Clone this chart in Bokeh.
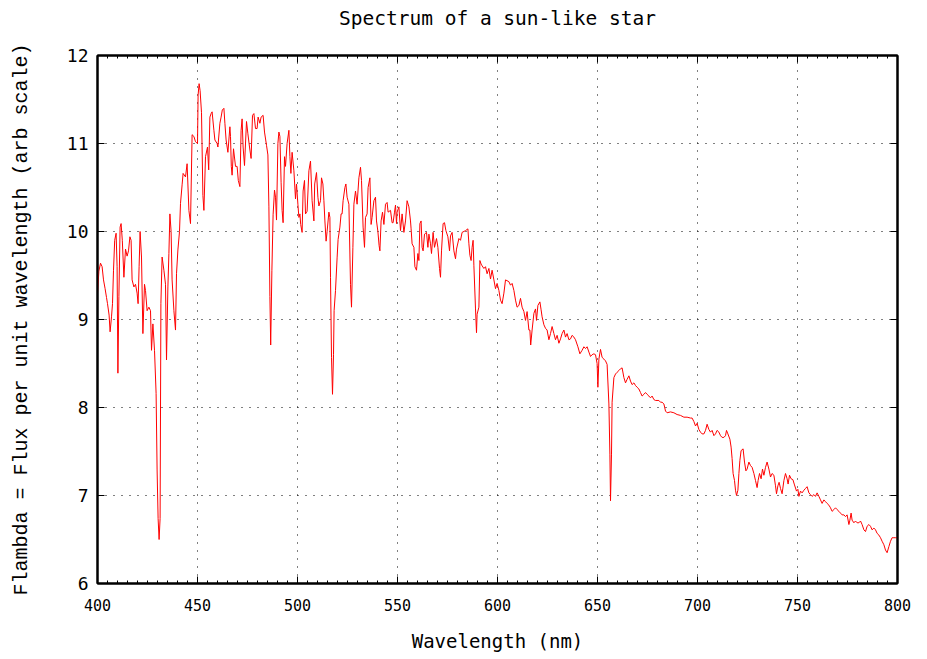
from bokeh.plotting import figure
from bokeh.models import LinearAxis, SingleIntervalTicker, Range1d, CustomJSTickFormatter
from bokeh.embed import file_html
from bokeh.resources import INLINE

# Spectrum readings (wavelength in nm, flux in arbitrary units)
wavelength = [
    400.0, 400.7, 401.5, 402.3, 403.0, 403.8, 404.5, 405.0, 405.8, 406.3, 407.0, 407.5, 408.0, 408.6, 409.3, 409.8,
    410.2, 410.7, 411.3, 411.8, 412.4, 413.2, 414.0, 414.8, 415.5, 416.2, 416.8, 417.3, 418.2, 419.0, 419.8, 420.3,
    420.8, 421.3, 422.0, 422.7, 423.5, 424.0, 424.8, 425.7, 426.5, 427.0, 427.7, 428.5, 429.3, 429.8, 430.3, 430.8,
    431.3, 431.7, 432.3, 433.2, 434.0, 434.5, 435.2, 435.7, 436.2, 436.8, 437.3, 438.2, 439.0, 439.5, 440.2, 441.0,
    441.5, 442.3, 442.8, 444.0, 444.8, 445.7, 446.5, 447.3, 448.2, 449.0, 450.0, 450.3, 450.8, 451.3, 452.0, 452.7,
    453.2, 454.0, 455.0, 455.6, 456.2, 456.8, 457.3, 458.2, 458.7, 459.8, 460.2, 461.2, 461.8, 462.4, 463.2, 463.7,
    464.3, 465.2, 466.2, 466.5, 466.9, 467.3, 468.0, 469.0, 469.8, 470.4, 471.2, 471.8, 472.3, 472.8, 473.5, 474.5,
    475.2, 476.0, 476.8, 477.5, 478.2, 479.0, 479.8, 480.3, 481.2, 481.8, 482.8, 483.5, 484.5, 485.2, 485.7, 486.2,
    486.6, 487.2, 487.8, 488.5, 489.0, 489.5, 490.2, 490.7, 491.2, 491.8, 492.3, 492.8, 493.5, 494.0, 494.8, 495.7,
    496.2, 496.7, 497.3, 498.2, 499.0, 499.5, 500.2, 500.7, 501.2, 501.6, 502.3, 502.8, 503.5, 504.0, 504.8, 505.7,
    506.5, 507.3, 508.2, 508.6, 509.5, 510.2, 510.7, 511.5, 512.0, 512.7, 513.2, 513.7, 514.3, 514.8, 515.7, 516.2,
    516.5, 517.0, 517.5, 518.0, 518.3, 519.0, 519.8, 520.3, 521.2, 521.8, 522.3, 522.8, 523.7, 524.2, 524.8, 525.7,
    526.5, 527.0, 527.7, 528.2, 529.0, 529.8, 530.7, 531.5, 532.0, 532.8, 533.5, 534.0, 534.8, 535.3, 536.2, 536.8,
    537.3, 538.2, 539.0, 539.5, 540.2, 540.8, 541.2, 541.8, 542.5, 543.2, 544.0, 544.8, 545.3, 546.5, 547.3, 547.8,
    548.5, 549.0, 549.5, 549.8, 550.7, 551.5, 552.3, 553.2, 554.0, 554.8, 555.7, 556.5, 556.8, 557.3, 558.2, 558.7,
    559.5, 560.2, 560.7, 561.2, 561.8, 562.3, 562.8, 563.5, 564.5, 565.2, 565.7, 566.5, 567.0, 567.8, 568.5, 569.5,
    570.2, 571.0, 571.5, 572.0, 572.8, 573.5, 574.2, 575.2, 576.0, 576.5, 577.3, 578.2, 579.0, 579.5, 580.7, 581.5,
    582.3, 584.0, 585.2, 585.7, 586.2, 586.8, 587.3, 587.8, 588.2, 589.0, 589.5, 589.8, 590.7, 591.2, 591.8, 592.3,
    593.2, 594.0, 594.8, 595.7, 596.5, 597.3, 598.2, 599.0, 599.8, 600.7, 601.5, 602.3, 603.2, 604.0, 605.7, 606.5,
    607.3, 608.2, 609.0, 609.8, 610.7, 611.5, 612.3, 613.2, 614.0, 614.8, 615.7, 616.2, 616.6, 617.3, 618.2, 619.0,
    619.5, 620.2, 621.2, 621.8, 622.3, 623.2, 624.0, 624.8, 625.7, 626.5, 627.3, 628.2, 629.0, 629.8, 630.7, 631.5,
    632.3, 633.2, 634.0, 634.8, 635.7, 636.5, 637.3, 638.2, 639.0, 640.2, 641.2, 642.3, 643.2, 644.0, 644.8, 645.7,
    646.5, 647.3, 648.2, 649.0, 649.8, 650.2, 650.7, 651.5, 652.3, 653.2, 654.0, 654.8, 655.7, 656.2, 656.5, 657.0,
    657.3, 658.2, 659.0, 659.8, 660.7, 661.5, 662.3, 663.2, 664.0, 664.8, 665.7, 666.5, 667.3, 668.2, 669.0, 669.8,
    670.7, 671.5, 672.3, 673.2, 674.0, 674.8, 675.7, 676.5, 677.3, 678.2, 679.0, 680.7, 681.5, 682.3, 683.2, 684.0,
    684.8, 686.5, 688.2, 689.8, 691.5, 693.2, 694.8, 696.5, 697.3, 698.2, 699.0, 699.8, 700.7, 701.5, 702.3, 703.2,
    704.0, 704.8, 705.7, 706.5, 707.3, 708.2, 709.0, 709.8, 710.7, 711.5, 712.3, 713.2, 714.0, 714.5, 715.2, 716.2,
    716.8, 717.3, 717.8, 718.5, 719.0, 719.5, 720.2, 720.7, 721.2, 721.8, 722.8, 723.5, 724.2, 724.8, 725.7, 726.5,
    727.3, 728.2, 729.0, 729.8, 730.3, 731.0, 731.8, 732.5, 733.2, 734.0, 734.8, 735.7, 736.5, 737.3, 738.2, 739.0,
    739.5, 740.2, 740.8, 741.5, 742.3, 743.2, 744.0, 744.8, 745.3, 746.0, 746.8, 747.7, 748.5, 749.5, 750.2, 750.7,
    751.5, 752.3, 753.2, 754.0, 754.8, 755.7, 756.5, 757.3, 758.2, 759.0, 759.8, 760.7, 761.5, 762.3, 763.2, 764.0,
    764.8, 765.7, 766.5, 767.3, 768.2, 769.0, 769.8, 770.7, 771.5, 772.3, 773.2, 774.0, 774.8, 775.7, 776.2, 776.8,
    777.3, 778.2, 779.0, 779.8, 780.7, 781.5, 782.3, 783.2, 784.0, 784.8, 785.7, 786.5, 787.3, 788.2, 789.0, 789.8,
    790.7, 791.5, 792.3, 793.2, 794.0, 794.8, 795.7, 796.5, 797.3, 798.2, 799.0, 800.0,
]
flux = [
    9.30, 9.55, 9.64, 9.60, 9.45, 9.35, 9.25, 9.18, 9.05, 8.86, 9.03, 9.18, 9.56, 9.90, 9.98, 9.60,
    8.39, 9.26, 10.05, 10.09, 9.90, 9.48, 9.80, 9.72, 9.78, 9.94, 9.90, 9.45, 9.37, 9.40, 9.30, 9.18,
    9.60, 10.00, 9.71, 8.84, 9.40, 9.33, 9.10, 9.14, 9.10, 8.65, 8.95, 8.65, 8.16, 7.29, 6.74, 6.50,
    6.74, 9.18, 9.71, 9.56, 9.40, 8.54, 9.37, 9.75, 10.20, 10.00, 9.45, 9.10, 8.88, 9.52, 9.79, 10.00,
    10.32, 10.53, 10.66, 10.62, 10.77, 10.24, 10.09, 11.10, 11.08, 11.02, 11.00, 11.55, 11.68, 11.60, 11.35, 10.41,
    10.24, 10.85, 10.96, 10.70, 11.30, 11.34, 11.36, 11.15, 11.04, 11.00, 10.96, 11.23, 11.30, 11.38, 11.40, 11.23,
    11.04, 10.90, 11.19, 11.08, 10.74, 10.64, 10.94, 10.74, 10.74, 10.58, 10.51, 11.15, 11.28, 10.96, 10.75, 11.25,
    11.11, 10.96, 10.83, 11.32, 11.34, 11.17, 11.17, 11.30, 11.23, 11.30, 11.32, 11.13, 10.98, 10.87, 10.28, 9.26,
    8.71, 9.56, 10.19, 10.47, 10.39, 10.13, 11.00, 11.13, 11.08, 10.56, 10.24, 10.10, 10.85, 10.74, 11.00, 11.15,
    10.85, 10.66, 10.90, 10.69, 10.37, 10.54, 10.31, 10.16, 10.20, 10.08, 9.99, 10.46, 10.58, 10.20, 10.23, 10.69,
    10.80, 10.35, 10.12, 10.54, 10.67, 10.39, 10.29, 10.35, 10.61, 10.54, 10.35, 10.12, 9.89, 10.00, 10.22, 10.16,
    9.48, 8.57, 8.15, 8.60, 9.10, 9.33, 9.70, 9.91, 10.05, 10.20, 10.20, 10.35, 10.50, 10.54, 10.39, 10.31,
    9.40, 9.14, 9.82, 10.31, 10.46, 10.31, 10.61, 10.73, 10.58, 10.05, 9.82, 10.16, 10.20, 10.50, 10.61, 10.08,
    10.16, 10.35, 10.39, 10.12, 10.00, 9.84, 9.78, 10.12, 10.22, 10.08, 10.31, 10.33, 10.22, 10.24, 10.10, 10.10,
    10.22, 10.30, 10.09, 10.22, 10.28, 10.01, 10.20, 9.99, 10.12, 10.35, 10.28, 10.12, 10.03, 9.86, 9.82, 9.60,
    9.56, 9.75, 9.67, 10.09, 10.12, 9.82, 9.78, 9.97, 9.99, 9.82, 9.97, 9.86, 9.75, 9.99, 9.82, 9.92,
    9.82, 9.58, 9.48, 9.78, 10.09, 10.10, 10.01, 9.94, 9.78, 9.95, 9.99, 9.78, 9.69, 9.80, 9.92, 9.90,
    9.99, 10.01, 10.03, 9.86, 9.73, 9.67, 9.82, 9.90, 9.61, 9.12, 8.85, 9.06, 9.14, 9.67, 9.63, 9.61,
    9.58, 9.60, 9.52, 9.58, 9.46, 9.56, 9.45, 9.35, 9.41, 9.33, 9.22, 9.18, 9.30, 9.45, 9.43, 9.39,
    9.41, 9.33, 9.22, 9.14, 9.16, 9.24, 9.14, 9.09, 8.99, 9.09, 8.88, 8.88, 8.71, 8.88, 9.07, 9.12,
    8.99, 9.16, 9.20, 9.11, 9.03, 8.94, 8.90, 8.88, 8.77, 8.84, 8.92, 8.84, 8.77, 8.82, 8.73, 8.78,
    8.84, 8.88, 8.80, 8.84, 8.77, 8.78, 8.82, 8.80, 8.77, 8.69, 8.61, 8.65, 8.69, 8.67, 8.69, 8.63,
    8.58, 8.60, 8.61, 8.60, 8.50, 8.23, 8.55, 8.66, 8.57, 8.55, 8.53, 8.49, 8.04, 7.47, 6.94, 7.47,
    8.06, 8.34, 8.38, 8.40, 8.42, 8.44, 8.45, 8.34, 8.28, 8.32, 8.36, 8.30, 8.26, 8.28, 8.25, 8.23,
    8.21, 8.17, 8.13, 8.15, 8.17, 8.15, 8.13, 8.11, 8.13, 8.09, 8.08, 8.08, 8.06, 8.06, 8.04, 7.96,
    7.94, 7.95, 7.94, 7.92, 7.91, 7.89, 7.89, 7.88, 7.88, 7.84, 7.79, 7.82, 7.75, 7.72, 7.70, 7.70,
    7.74, 7.81, 7.75, 7.72, 7.74, 7.68, 7.70, 7.74, 7.72, 7.68, 7.66, 7.66, 7.68, 7.74, 7.70, 7.64,
    7.55, 7.42, 7.25, 7.17, 7.06, 7.00, 7.06, 7.25, 7.40, 7.51, 7.53, 7.38, 7.28, 7.30, 7.38, 7.34,
    7.32, 7.25, 7.17, 7.09, 7.17, 7.25, 7.19, 7.30, 7.23, 7.32, 7.38, 7.30, 7.21, 7.25, 7.23, 7.11,
    7.02, 7.11, 7.15, 7.08, 7.02, 7.17, 7.25, 7.19, 7.13, 7.23, 7.19, 7.18, 7.12, 7.05, 7.07, 6.99,
    7.05, 7.03, 7.06, 7.08, 7.10, 7.03, 7.01, 6.99, 7.01, 6.99, 7.03, 6.99, 6.95, 6.91, 6.95, 6.93,
    6.91, 6.89, 6.86, 6.82, 6.84, 6.86, 6.84, 6.82, 6.80, 6.78, 6.78, 6.76, 6.78, 6.67, 6.72, 6.80,
    6.72, 6.69, 6.71, 6.69, 6.69, 6.71, 6.67, 6.61, 6.59, 6.65, 6.67, 6.65, 6.61, 6.63, 6.61, 6.57,
    6.55, 6.52, 6.48, 6.44, 6.38, 6.35, 6.42, 6.48, 6.52, 6.52, 6.52, 6.52,
]

title_text = "Spectrum of a sun-like star"
x_label = "Wavelength (nm)"
y_label = "Flambda = Flux per unit wavelength (arb scale)"

MONO = "DejaVu Sans Mono"

p = figure(
    width=925, height=657,
    x_range=Range1d(400, 800), y_range=Range1d(6, 12),
    output_backend="svg", toolbar_location=None, title_location=None,
    min_border_left=97, min_border_right=28, min_border_top=55, min_border_bottom=74,
    x_axis_label=x_label, y_axis_label=y_label,
)
p.background_fill_color = "white"
p.border_fill_color = "white"
p.outline_line_color = "black"
p.outline_line_width = 2

xt = SingleIntervalTicker(interval=50, num_minor_ticks=10)
yt = SingleIntervalTicker(interval=1, num_minor_ticks=0)

def style_axis(ax, ticker, show_labels, minor):
    ax.ticker = ticker
    ax.axis_line_color = "black"
    ax.axis_line_width = 2
    ax.major_tick_in = 7
    ax.major_tick_out = 0
    ax.major_tick_line_width = 1
    ax.major_tick_line_color = "black"
    if minor:
        ax.minor_tick_in = 3
        ax.minor_tick_out = 0
        ax.minor_tick_line_color = "black"
    else:
        ax.minor_tick_line_color = None
    if not show_labels:
        ax.formatter = CustomJSTickFormatter(code="return ''")
        ax.major_label_standoff = 0

# bottom / left axes
bx = p.xaxis[0]
ly = p.yaxis[0]
style_axis(bx, xt, True, True)
style_axis(ly, yt, True, False)
bx.major_label_text_font = MONO
bx.major_label_text_font_size = "15px"
bx.major_label_text_color = "black"
bx.major_label_standoff = 15
bx.axis_label_text_font = MONO
bx.axis_label_text_font_size = "19px"
bx.axis_label_text_font_style = "normal"
bx.axis_label_text_color = "black"
bx.axis_label_standoff = 16

ly.major_label_text_font = MONO
ly.major_label_text_font_size = "18px"
ly.major_label_text_color = "black"
ly.major_label_standoff = 9
ly.axis_label_text_font = "Liberation Mono"
ly.axis_label_text_font_size = "20px"
ly.axis_label_text_font_style = "normal"
ly.axis_label_text_color = "black"
ly.axis_label_standoff = 31

# mirrored axes on top / right; the top one carries the chart title
tx = LinearAxis(axis_label=title_text)
style_axis(tx, xt, False, True)
tx.axis_label_text_font = MONO
tx.axis_label_text_font_size = "19.5px"
tx.axis_label_text_font_style = "normal"
tx.axis_label_text_color = "black"
tx.axis_label_standoff = 26
p.add_layout(tx, "above")
ry = LinearAxis()
style_axis(ry, yt, False, False)
p.add_layout(ry, "right")

# dotted grid
for g in (p.xgrid[0], p.ygrid[0]):
    g.grid_line_color = "black"
    g.grid_line_dash = "1 7"
    g.grid_line_width = 1
p.xgrid[0].ticker = xt
p.ygrid[0].ticker = yt

p.line(wavelength, flux, line_color="#ff0000", line_width=1)

open("out.html", "w").write(file_html(p, INLINE))
